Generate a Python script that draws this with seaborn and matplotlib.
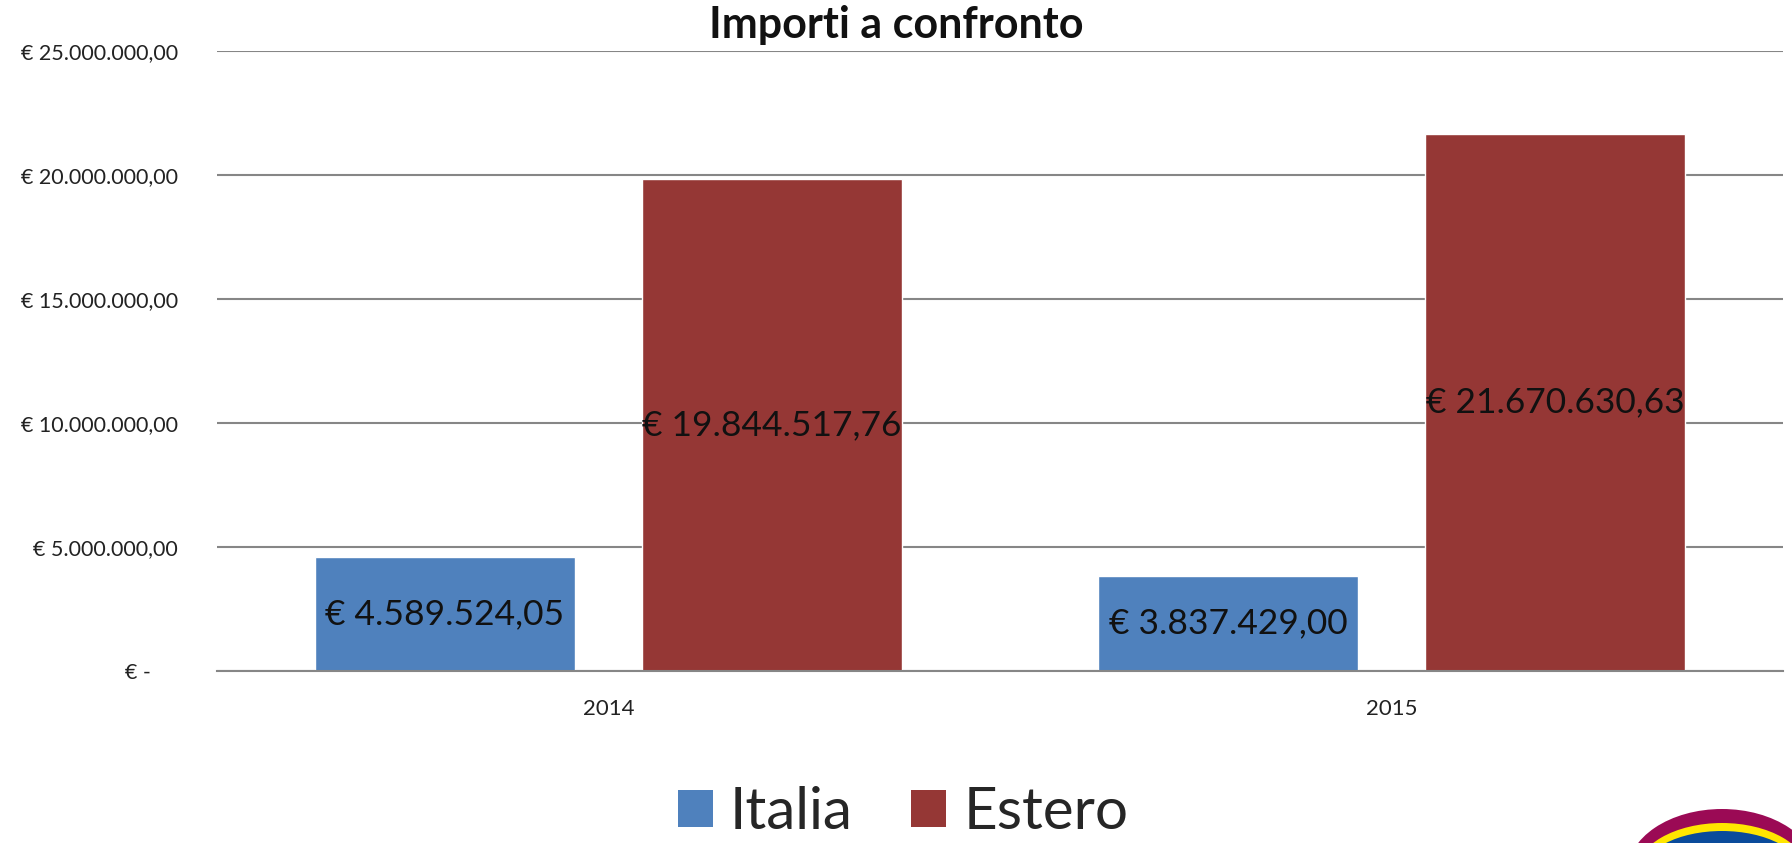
import matplotlib
matplotlib.use("Agg")
import matplotlib.pyplot as plt
import seaborn as sns
import pandas as pd
from matplotlib.patches import Ellipse, Patch
from matplotlib.transforms import IdentityTransform

years = ["2014", "2015"]
series = ["Italia", "Estero"]
italia = [4589524.05, 3837429.00]
estero = [19844517.76, 21670630.63]
yticks = [0, 5000000, 10000000, 15000000, 20000000, 25000000]
ytick_labels = ["€ -     ", "€ 5.000.000,00", "€ 10.000.000,00", "€ 15.000.000,00",
                "€ 20.000.000,00", "€ 25.000.000,00"]
value_labels_italia = ["€ 4.589.524,05", "€ 3.837.429,00"]
value_labels_estero = ["€ 19.844.517,76", "€ 21.670.630,63"]
title = "Importi a confronto"

df = pd.DataFrame({
    "anno": years * 2,
    "serie": [series[0]] * 2 + [series[1]] * 2,
    "importo": italia + estero,
})

sns.set_theme(style="white")
plt.rcParams["font.family"] = ["Lato", "DejaVu Sans"]

W, H = 1792, 843
fig = plt.figure(figsize=(W / 100, H / 100), dpi=100)
ax = fig.add_axes([217 / W, 172 / H, (1783 - 217) / W, (671 - 51) / H])

colors = ["#4F81BD", "#953735"]
sns.barplot(data=df, x="anno", y="importo", hue="serie", palette=colors,
            width=0.836, gap=0.206, ax=ax, legend=False, saturation=1)

ax.set_ylim(0, 25000000)
ax.set_xlim(-0.5, 1.5)
ax.set_yticks(yticks)
ax.set_yticklabels(ytick_labels, fontsize=15.5, color="#222222")
ax.tick_params(axis="y", length=0, pad=28)
ax.tick_params(axis="x", length=0, pad=20, labelsize=16, labelcolor="#222222")
ax.yaxis.grid(True, color="#868686", linewidth=1.5)
ax.set_axisbelow(True)
for s in ["top", "right", "left"]:
    ax.spines[s].set_visible(False)
ax.spines["bottom"].set_color("#868686")
ax.spines["bottom"].set_linewidth(1.5)
ax.set_xlabel("")
ax.set_ylabel("")

labels_all = [value_labels_italia, value_labels_estero]
for cont, labs in zip(ax.containers, labels_all):
    ax.bar_label(cont, labels=labs, label_type="center", fontsize=25.5, color="#111111")

fig.text(0.5, 0.970, title, ha="center", va="center", fontsize=31,
         fontweight="bold", color="#111111")

handles = [Patch(facecolor=c, edgecolor="none") for c in colors]
fig.legend(handles, series, loc="center", bbox_to_anchor=(0.504, 0.036), ncol=2,
           frameon=False, fontsize=42, handlelength=0.6, handleheight=0.6,
           handletextpad=0.3, columnspacing=1.0)

# decorative logo in the lower-right corner
for (cy, w, h, col) in [(-30, 190, 128, "#9B0A55"), (-30, 172, 100, "#FFE600"),
                        (-30, 160, 84, "#0A4B9B")]:
    e = Ellipse((1722, cy), w, h, transform=IdentityTransform(), facecolor=col,
                edgecolor="none")
    fig.patches.append(e)

fig.savefig("out.png", dpi=100, facecolor="white")
